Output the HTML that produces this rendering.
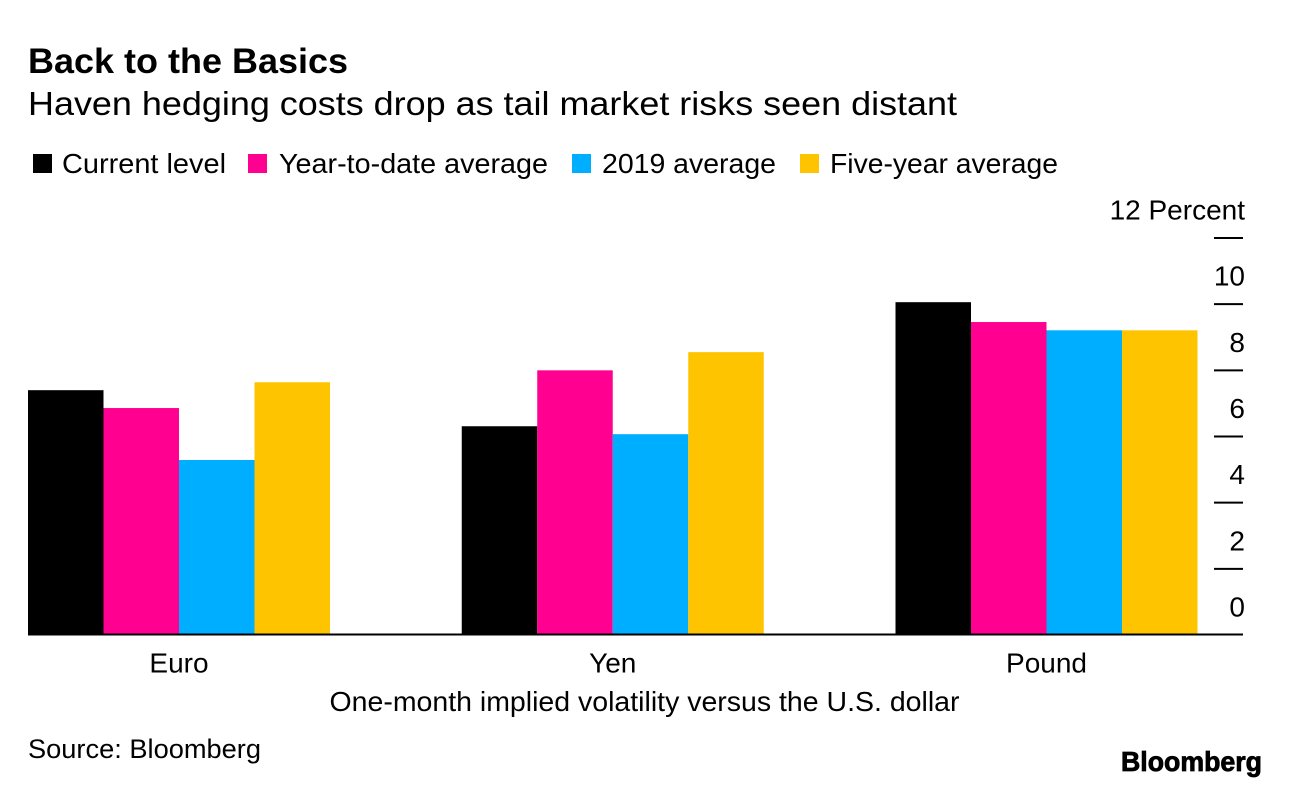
<!DOCTYPE html>
<html>
<head>
<meta charset="utf-8">
<style>
html,body{margin:0;padding:0;background:#fff;width:1289px;height:788px;overflow:hidden}
svg{display:block}
text{font-family:"Liberation Sans",sans-serif;fill:#000}
</style>
</head>
<body>
<svg id="chart" width="1289" height="788" viewBox="0 0 1289 788" xmlns="http://www.w3.org/2000/svg">
<rect x="0" y="0" width="1289" height="788" fill="#fff"/>
<text x="28" y="73" font-size="35" font-weight="700" textLength="320" lengthAdjust="spacingAndGlyphs">Back to the Basics</text>
<text x="28" y="115" font-size="33" textLength="929" lengthAdjust="spacingAndGlyphs">Haven hedging costs drop as tail market risks seen distant</text>
<g id="legend"></g>
<g id="grid"></g>
<g id="bars"></g>
<line x1="28" y1="634.5" x2="1243" y2="634.5" stroke="#000" stroke-width="2"/>
<g id="xlabels"></g>
<text x="644.5" y="711" font-size="28" text-anchor="middle" textLength="630" lengthAdjust="spacingAndGlyphs">One-month implied volatility versus the U.S. dollar</text>
<text x="28" y="758" font-size="26.5" textLength="233" lengthAdjust="spacingAndGlyphs">Source: Bloomberg</text>
<text x="1121" y="771" font-size="28" font-weight="700" stroke="#000" stroke-width="0.8" textLength="141" lengthAdjust="spacingAndGlyphs">Bloomberg</text>
</svg>
<script>
const categories = ["Euro", "Yen", "Pound"];
const seriesNames = ["Current level", "Year-to-date average", "2019 average", "Five-year average"];
const currentLevel = [7.4, 6.31, 10.06];
const ytdAverage = [6.86, 8.0, 9.46];
const avg2019 = [5.29, 6.07, 9.21];
const fiveYearAverage = [7.64, 8.55, 9.21];
const yTickValues = [0, 2, 4, 6, 8, 10, 12];

const seriesValues = [currentLevel, ytdAverage, avg2019, fiveYearAverage];
const colors = ["#000000", "#ff0090", "#00aeff", "#ffc400"];
const legendSwatchX = [33, 248, 572, 800];
const legendTextX = [62, 279, 602, 830];
const legendWidths = [164, 269, 174, 228];
const NS = "http://www.w3.org/2000/svg";

function yScale(v) { return 635 - v * (397 / 12); }
function groupX(i) { return 28 + i * 433.75; }
function mk(tag, attrs, text) {
  const el = document.createElementNS(NS, tag);
  for (const k in attrs) el.setAttribute(k, attrs[k]);
  if (text !== undefined) el.textContent = text;
  return el;
}

const legend = document.getElementById("legend");
seriesNames.forEach(function (name, i) {
  const sw = mk("rect", { x: legendSwatchX[i], y: 154, width: 19, height: 19, fill: colors[i] });
  
  
  legend.appendChild(sw);
  const t = mk("text", { x: legendTextX[i], y: 173, "font-size": 28, textLength: legendWidths[i], lengthAdjust: "spacingAndGlyphs" }, name);
  
  
  legend.appendChild(t);
});

const grid = document.getElementById("grid");
yTickValues.forEach(function (v) {
  const y = yScale(v);
  if (v > 0) {
    const l = mk("line", { x1: 1214, x2: 1243, y1: y, y2: y, stroke: "#000", "stroke-width": 2 });
    
    
    grid.appendChild(l);
  }
  const t = mk("text", { x: 1245, y: y - 18.5, "font-size": 28, "text-anchor": "end" }, v === 12 ? "12 Percent" : String(v));
  
  
  grid.appendChild(t);
});

const barsG = document.getElementById("bars");
const barW = 75.5;
categories.forEach(function (c, ci) {
  seriesValues.forEach(function (vals, si) {
    const top = yScale(vals[ci]);
    const r = mk("rect", { x: groupX(ci) + si * barW, y: top, width: barW, height: 635 - top, fill: colors[si] });
    
    
    barsG.appendChild(r);
  });
});

const xl = document.getElementById("xlabels");
categories.forEach(function (c, ci) {
  const t = mk("text", { x: groupX(ci) + 2 * barW, y: 672.5, "font-size": 28, "text-anchor": "middle" }, c);
  
  
  xl.appendChild(t);
});
</script>
</body>
</html>
